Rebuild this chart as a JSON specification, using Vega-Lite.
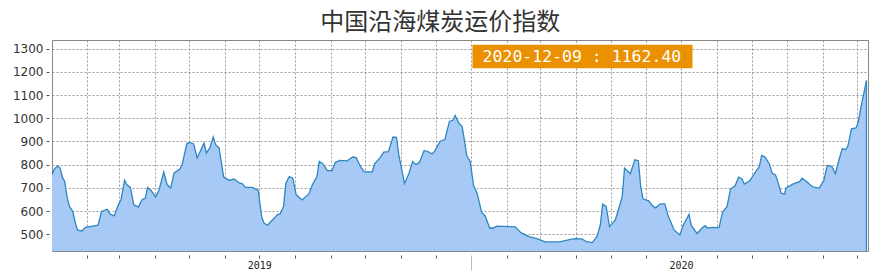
{
  "$schema": "https://vega.github.io/schema/vega-lite/v6.json",
  "autosize": {"type": "none"},
  "width": 816,
  "height": 211,
  "padding": {"left": 52, "top": 40, "right": 12, "bottom": 27},
  "background": "white",
  "title": {
    "text": "中国沿海煤炭运价指数",
    "font": "Noto Sans CJK SC",
    "fontSize": 24,
    "fontWeight": "normal",
    "color": "#333333",
    "anchor": "middle",
    "frame": "bounds",
    "offset": 5
  },
  "config": {
    "view": {"stroke": "#888888", "strokeWidth": 1},
    "axisY": {"labelOverlap": false, "tickCount": 10, "format": "d"}
  },
  "datasets": {
    "main": [
      {"date": "2019-01-02", "v": 756}, {"date": "2019-01-04", "v": 781}, {"date": "2019-01-07", "v": 795}, {"date": "2019-01-09", "v": 785},
      {"date": "2019-01-11", "v": 746}, {"date": "2019-01-13", "v": 728}, {"date": "2019-01-15", "v": 663}, {"date": "2019-01-17", "v": 622},
      {"date": "2019-01-20", "v": 598}, {"date": "2019-01-22", "v": 555}, {"date": "2019-01-24", "v": 519}, {"date": "2019-01-28", "v": 514},
      {"date": "2019-01-31", "v": 530}, {"date": "2019-02-11", "v": 539}, {"date": "2019-02-14", "v": 598}, {"date": "2019-02-19", "v": 608},
      {"date": "2019-02-21", "v": 588}, {"date": "2019-02-25", "v": 579}, {"date": "2019-02-28", "v": 620}, {"date": "2019-03-03", "v": 651},
      {"date": "2019-03-06", "v": 733}, {"date": "2019-03-08", "v": 713}, {"date": "2019-03-11", "v": 702}, {"date": "2019-03-14", "v": 627},
      {"date": "2019-03-18", "v": 617}, {"date": "2019-03-21", "v": 648}, {"date": "2019-03-24", "v": 656}, {"date": "2019-03-26", "v": 702},
      {"date": "2019-03-29", "v": 689}, {"date": "2019-04-02", "v": 660}, {"date": "2019-04-05", "v": 692}, {"date": "2019-04-09", "v": 768},
      {"date": "2019-04-12", "v": 713}, {"date": "2019-04-15", "v": 699}, {"date": "2019-04-18", "v": 764}, {"date": "2019-04-23", "v": 781},
      {"date": "2019-04-25", "v": 800}, {"date": "2019-04-29", "v": 890}, {"date": "2019-05-01", "v": 896}, {"date": "2019-05-05", "v": 889},
      {"date": "2019-05-08", "v": 829}, {"date": "2019-05-14", "v": 893}, {"date": "2019-05-16", "v": 850}, {"date": "2019-05-19", "v": 872},
      {"date": "2019-05-22", "v": 919}, {"date": "2019-05-24", "v": 886}, {"date": "2019-05-27", "v": 872}, {"date": "2019-05-31", "v": 746},
      {"date": "2019-06-05", "v": 732}, {"date": "2019-06-09", "v": 738}, {"date": "2019-06-14", "v": 720}, {"date": "2019-06-16", "v": 718},
      {"date": "2019-06-19", "v": 702}, {"date": "2019-06-25", "v": 702}, {"date": "2019-06-30", "v": 689}, {"date": "2019-07-03", "v": 576},
      {"date": "2019-07-05", "v": 548}, {"date": "2019-07-08", "v": 539}, {"date": "2019-07-13", "v": 565}, {"date": "2019-07-17", "v": 586},
      {"date": "2019-07-19", "v": 588}, {"date": "2019-07-22", "v": 620}, {"date": "2019-07-24", "v": 720}, {"date": "2019-07-27", "v": 749},
      {"date": "2019-07-30", "v": 742}, {"date": "2019-08-02", "v": 670}, {"date": "2019-08-07", "v": 648}, {"date": "2019-08-13", "v": 674},
      {"date": "2019-08-16", "v": 713}, {"date": "2019-08-20", "v": 749}, {"date": "2019-08-22", "v": 814}, {"date": "2019-08-25", "v": 804},
      {"date": "2019-08-29", "v": 774}, {"date": "2019-09-02", "v": 774}, {"date": "2019-09-05", "v": 810}, {"date": "2019-09-09", "v": 818},
      {"date": "2019-09-15", "v": 816}, {"date": "2019-09-20", "v": 833}, {"date": "2019-09-23", "v": 830}, {"date": "2019-09-27", "v": 790},
      {"date": "2019-09-30", "v": 769}, {"date": "2019-10-07", "v": 769}, {"date": "2019-10-09", "v": 804}, {"date": "2019-10-14", "v": 831},
      {"date": "2019-10-17", "v": 854}, {"date": "2019-10-21", "v": 856}, {"date": "2019-10-25", "v": 919}, {"date": "2019-10-28", "v": 918},
      {"date": "2019-10-30", "v": 843}, {"date": "2019-11-04", "v": 718}, {"date": "2019-11-08", "v": 764}, {"date": "2019-11-11", "v": 814},
      {"date": "2019-11-14", "v": 800}, {"date": "2019-11-17", "v": 810}, {"date": "2019-11-21", "v": 860}, {"date": "2019-11-24", "v": 857},
      {"date": "2019-11-28", "v": 846}, {"date": "2019-11-30", "v": 857}, {"date": "2019-12-05", "v": 901}, {"date": "2019-12-09", "v": 908},
      {"date": "2019-12-13", "v": 986}, {"date": "2019-12-16", "v": 991}, {"date": "2019-12-18", "v": 1012}, {"date": "2019-12-21", "v": 980},
      {"date": "2019-12-24", "v": 965}, {"date": "2019-12-26", "v": 905}, {"date": "2019-12-28", "v": 839}, {"date": "2019-12-31", "v": 814},
      {"date": "2020-01-03", "v": 709}, {"date": "2020-01-06", "v": 677}, {"date": "2020-01-10", "v": 594}, {"date": "2020-01-13", "v": 579},
      {"date": "2020-01-17", "v": 526}, {"date": "2020-01-20", "v": 527}, {"date": "2020-01-23", "v": 535}, {"date": "2020-02-08", "v": 532},
      {"date": "2020-02-13", "v": 507}, {"date": "2020-02-20", "v": 490}, {"date": "2020-02-27", "v": 481}, {"date": "2020-03-05", "v": 467},
      {"date": "2020-03-18", "v": 467}, {"date": "2020-03-26", "v": 477}, {"date": "2020-03-31", "v": 481}, {"date": "2020-04-06", "v": 480},
      {"date": "2020-04-10", "v": 468}, {"date": "2020-04-15", "v": 464}, {"date": "2020-04-19", "v": 490}, {"date": "2020-04-22", "v": 540},
      {"date": "2020-04-24", "v": 630}, {"date": "2020-04-27", "v": 620}, {"date": "2020-04-30", "v": 533}, {"date": "2020-05-05", "v": 562},
      {"date": "2020-05-08", "v": 611}, {"date": "2020-05-11", "v": 663}, {"date": "2020-05-13", "v": 785}, {"date": "2020-05-18", "v": 761},
      {"date": "2020-05-22", "v": 821}, {"date": "2020-05-25", "v": 817}, {"date": "2020-05-27", "v": 706}, {"date": "2020-05-29", "v": 653},
      {"date": "2020-06-03", "v": 644}, {"date": "2020-06-06", "v": 624}, {"date": "2020-06-09", "v": 614}, {"date": "2020-06-13", "v": 631},
      {"date": "2020-06-17", "v": 631}, {"date": "2020-06-20", "v": 576}, {"date": "2020-06-22", "v": 555}, {"date": "2020-06-25", "v": 519},
      {"date": "2020-06-30", "v": 497}, {"date": "2020-07-03", "v": 540}, {"date": "2020-07-08", "v": 586}, {"date": "2020-07-10", "v": 537},
      {"date": "2020-07-15", "v": 504}, {"date": "2020-07-19", "v": 526}, {"date": "2020-07-22", "v": 537}, {"date": "2020-07-24", "v": 527},
      {"date": "2020-07-28", "v": 530}, {"date": "2020-08-03", "v": 529}, {"date": "2020-08-06", "v": 594}, {"date": "2020-08-10", "v": 620},
      {"date": "2020-08-13", "v": 695}, {"date": "2020-08-17", "v": 709}, {"date": "2020-08-20", "v": 746}, {"date": "2020-08-23", "v": 738},
      {"date": "2020-08-25", "v": 716}, {"date": "2020-08-30", "v": 732}, {"date": "2020-09-03", "v": 764}, {"date": "2020-09-07", "v": 792},
      {"date": "2020-09-09", "v": 840}, {"date": "2020-09-12", "v": 833}, {"date": "2020-09-16", "v": 800}, {"date": "2020-09-18", "v": 764},
      {"date": "2020-09-21", "v": 756}, {"date": "2020-09-23", "v": 727}, {"date": "2020-09-26", "v": 677}, {"date": "2020-09-29", "v": 673},
      {"date": "2020-09-30", "v": 699}, {"date": "2020-10-06", "v": 716}, {"date": "2020-10-12", "v": 727}, {"date": "2020-10-14", "v": 742},
      {"date": "2020-10-18", "v": 727}, {"date": "2020-10-21", "v": 713}, {"date": "2020-10-24", "v": 703}, {"date": "2020-10-29", "v": 699},
      {"date": "2020-11-02", "v": 732}, {"date": "2020-11-05", "v": 797}, {"date": "2020-11-09", "v": 792}, {"date": "2020-11-12", "v": 761},
      {"date": "2020-11-15", "v": 818}, {"date": "2020-11-18", "v": 869}, {"date": "2020-11-21", "v": 864}, {"date": "2020-11-23", "v": 882},
      {"date": "2020-11-26", "v": 954}, {"date": "2020-11-30", "v": 958}, {"date": "2020-12-02", "v": 987}, {"date": "2020-12-05", "v": 1066},
      {"date": "2020-12-09", "v": 1162.4}
    ],
    "note": [{"label": "2020-12-09 : 1162.40"}]
  },
  "layer": [
    {
      "data": {"name": "main"},
      "mark": {
        "type": "area",
        "color": "#a6caf5",
        "opacity": 1,
        "clip": true,
        "line": {"color": "#2e86c1", "strokeWidth": 1.3}
      },
      "encoding": {
        "x": {
          "field": "date",
          "type": "temporal",
          "title": null,
          "scale": {
            "type": "utc",
            "nice": false,
            "domain": [
              {"year": 2019, "month": 1, "date": 2, "utc": true},
              {"year": 2020, "month": 12, "date": 10, "hours": 8, "utc": true}
            ]
          },
          "axis": {
            "tickCount": {"interval": "month", "step": 1},
            "labelExpr": "utcmonth(datum.value) == 6 ? utcFormat(datum.value, '%Y') : ''",
            "labelOverlap": false,
            "labelFont": "DejaVu Sans Mono",
            "labelFontSize": 10,
            "labelColor": "#222222",
            "labelPadding": 2,
            "labelAlign": "center",
            "domain": false,
            "offset": 4,
            "tickSize": {"condition": {"test": "utcmonth(datum.value) == 0", "value": 15}, "value": 3},
            "tickColor": {"condition": {"test": "utcmonth(datum.value) == 0", "value": "#bbbbbb"}, "value": "#555555"},
            "grid": true,
            "gridColor": "#999999",
            "gridDash": [2, 2],
            "gridWidth": 1
          }
        },
        "y": {
          "field": "v",
          "type": "quantitative",
          "title": null,
          "scale": {"domain": [428, 1337], "nice": false, "zero": false},
          "axis": {
            "tickCount": 10,
            "format": "d",
            "labelOverlap": false,
            "labelFont": "DejaVu Sans",
            "labelFontSize": 12,
            "labelColor": "#333333",
            "labelPadding": 3,
            "domain": false,
            "offset": 3,
            "tickSize": 3,
            "tickColor": "#555555",
            "grid": true,
            "gridColor": "#999999",
            "gridDash": [2, 2],
            "gridWidth": 1
          }
        }
      }
    },
    {
      "data": {"name": "main"},
      "transform": [{"filter": "datum.v == 1162.4"}],
      "mark": {"type": "rule", "color": "#2e86c1", "strokeWidth": 1.3},
      "encoding": {
        "x": {"field": "date", "type": "temporal"},
        "y": {"field": "v", "type": "quantitative"},
        "y2": {"datum": 428}
      }
    },
    {
      "data": {"name": "note"},
      "mark": {"type": "rect", "color": "#eb9100", "opacity": 1},
      "encoding": {
        "x": {"datum": {"year": 2020, "month": 1, "date": 2, "utc": true}, "type": "temporal"},
        "x2": {"datum": {"year": 2020, "month": 7, "date": 11, "utc": true}},
        "y": {"datum": 1316, "type": "quantitative"},
        "y2": {"datum": 1215}
      }
    },
    {
      "data": {"name": "note"},
      "mark": {
        "type": "text",
        "color": "white",
        "font": "DejaVu Sans Mono",
        "fontSize": 16.5,
        "align": "center",
        "baseline": "middle"
      },
      "encoding": {
        "x": {"datum": {"year": 2020, "month": 4, "date": 6, "utc": true}, "type": "temporal"},
        "y": {"datum": 1265, "type": "quantitative"},
        "text": {"field": "label"}
      }
    }
  ]
}
